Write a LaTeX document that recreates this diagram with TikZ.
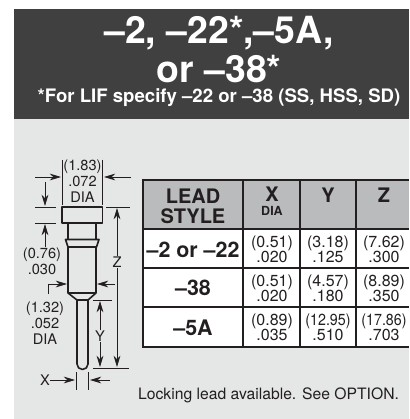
\documentclass[tikz,border=0pt]{standalone}
\usepackage{fontspec}
\setmainfont{TeX Gyre Heros}
\usepackage{tikz}
\usetikzlibrary{calc,positioning}
\usetikzlibrary{arrows.meta}
\tikzset{>={Stealth[width=2.4mm,length=4mm,inset=1.3mm]}}
\definecolor{headdark}{HTML}{404040}
\definecolor{panelgrey}{HTML}{E5E7E6}
\definecolor{cellgrey}{HTML}{B9BBBD}
\definecolor{inkdark}{HTML}{231F20}

\begin{document}
\begin{tikzpicture}[x=1pt,y=-1pt]
  \tikzstyle{dimtxt} = [text=inkdark, inner sep=0pt, align=center, font=\fontsize{14.6}{16}\selectfont]
  \tikzstyle{dimline} = [inkdark, line width=0.8pt]
  \tikzstyle{pinline} = [inkdark, line width=1.6pt, fill=panelgrey, line join=round]
  \tikzstyle{headtxt} = [text=inkdark, inner sep=0pt, align=center, font=\fontsize{20}{20}\selectfont\bfseries]
  \tikzstyle{styletxt} = [text=inkdark, inner sep=0pt, align=center, font=\fontsize{21.4}{23}\selectfont\bfseries]
  \tikzstyle{celltxt} = [text=inkdark, inner sep=0pt, align=center, font=\fontsize{16}{15}\selectfont]
  \tikzstyle{rowline} = [inkdark, line width=1.3pt]
  \tikzstyle{edgeline} = [inkdark, line width=2pt]

  \useasboundingbox (0,0) rectangle (409,419);

  % panels
  \fill[headdark] (14,9) rectangle (409,119);
  \fill[panelgrey] (14,119) rectangle (409,419);

  % title
  \node[text=white, inner sep=0pt, font=\fontsize{37.4}{37}\selectfont\bfseries] (title) at (219,33) {--2, --22*,--5A,};
  \node[text=white, inner sep=0pt, font=\fontsize{37.4}{37}\selectfont\bfseries] (titleb) at (219,69) {or --38*};
  \node[text=white, inner sep=0pt, font=\fontsize{18.6}{20}\selectfont\bfseries] (note) at (219,98) {*For LIF specify --22 or --38 (SS, HSS, SD)};

  % pin
  \draw[pinline] (68,223) -- (68,293) -- (77,300) -- (77,364) arc[start angle=180, end angle=360, x radius=5.5, y radius=-5.5] -- (88,300) -- (96,293) -- (96,223);
  \draw[pinline] (77,300) -- (88,300);
  \draw[pinline] (68,293) -- (96,293);
  \draw[pinline] (65.5,239.5) -- (99,239.5) -- (96.5,247) -- (68,247) -- cycle;
  \draw[pinline] (62,207) rectangle (102.5,223);

  % head dia
  \coordinate (ha) at (62,160);
  \coordinate (hb) at (62,205);
  \coordinate (hc) at (102.5,160);
  \coordinate (hd) at (102.5,205);
  \coordinate (he) at (35,177);
  \coordinate (hf) at (61,177);
  \coordinate (hg) at (131,177);
  \coordinate (hh) at (104,177);
  \node[dimtxt] (headdia) at (82.5,181) {(1.83)\\.072\\DIA};
  \draw[dimline] (ha) to (hb);
  \draw[dimline] (hc) to (hd);
  \draw[dimline,->] (he) to (hf);
  \draw[dimline,->] (hg) to (hh);

  % flange
  \coordinate (fa) at (35,207);
  \coordinate (fb) at (56,207);
  \coordinate (fc) at (35,223);
  \coordinate (fd) at (56,223);
  \coordinate (fe) at (45,182);
  \coordinate (ff) at (45,206);
  \coordinate (fg) at (45,224);
  \node[dimtxt] (flange) at (42,261) {(0.76)\\.030};
  \draw[dimline] (fa) to (fb);
  \draw[dimline] (fc) to (fd);
  \draw[dimline,->] (fe) to (ff);
  \draw[dimline,->] (flange.north -| fe) to (fg);

  % body dia
  \coordinate (ba) at (48,294);
  \coordinate (bb) at (48,284);
  \coordinate (bc) at (67,284);
  \coordinate (bd) at (115,284);
  \coordinate (be) at (97,284);
  \node[dimtxt] (bodydia) at (45,323) {(1.32)\\.052\\DIA};
  \draw[dimline,->] (ba) -- (bb) -- (bc);
  \draw[dimline,->] (bd) to (be);

  % Z
  \coordinate (za) at (106,207);
  \coordinate (zb) at (130,207);
  \coordinate (zc) at (93,368);
  \coordinate (zd) at (129,368);
  \coordinate (ze) at (117,208);
  \coordinate (zf) at (117,367);
  \node[dimtxt] (zlbl) at (117,262) {Z};
  \draw[dimline] (za) to (zb);
  \draw[dimline] (zc) to (zd);
  \draw[dimline,->] (zlbl) to (ze);
  \draw[dimline,->] (zlbl) to (zf);

  % Y
  \coordinate (ya) at (93,300);
  \coordinate (yb) at (112,300);
  \coordinate (yc) at (100,301);
  \coordinate (yd) at (100,367);
  \node[dimtxt] (ylbl) at (100,336) {Y};
  \draw[dimline] (ya) to (yb);
  \draw[dimline,->] (ylbl) to (yc);
  \draw[dimline,->] (ylbl) to (yd);

  % X
  \coordinate (xa) at (76,372);
  \coordinate (xb) at (76,390);
  \coordinate (xc) at (88,372);
  \coordinate (xd) at (88,390);
  \coordinate (xe) at (75,380);
  \coordinate (xf) at (110,380);
  \coordinate (xg) at (90,380);
  \node[dimtxt] (xlbl) at (45,380) {X};
  \draw[dimline] (xa) to (xb);
  \draw[dimline] (xc) to (xd);
  \draw[dimline,->] (xlbl) to (xe);
  \draw[dimline,->] (xf) to (xg);

  % table
  \fill[cellgrey] (143,180) rectangle (409,229);
  \fill[white] (143,229) rectangle (409,347);
  \coordinate (ca) at (143,229);
  \coordinate (cb) at (409,229);
  \coordinate (cc) at (143,268);
  \coordinate (cd) at (409,268);
  \coordinate (ce) at (143,307);
  \coordinate (cf) at (409,307);
  \coordinate (cg) at (243,180);
  \coordinate (ch) at (243,347);
  \coordinate (ci) at (300,180);
  \coordinate (cj) at (300,347);
  \coordinate (ck) at (356,180);
  \coordinate (cl) at (356,347);
  \coordinate (cm) at (143,180);
  \coordinate (cn) at (409,180);
  \coordinate (co) at (143,347);
  \coordinate (cp) at (409,347);
  \draw[rowline] (ca) to (cb);
  \draw[rowline] (cc) to (cd);
  \draw[rowline] (ce) to (cf);
  \draw[rowline] (cg) to (ch);
  \draw[rowline] (ci) to (cj);
  \draw[rowline] (ck) to (cl);
  \draw[edgeline] (cm) to (cn);
  \draw[edgeline] (co) to (cp);
  \draw[edgeline] ($(cm)+(0,-1)$) to ($(co)+(0,1)$);

  \node[headtxt] (leadhd) at (193,206) {LEAD\\STYLE};
  \node[headtxt] (xhd) at (272,194) {X};
  \node[text=inkdark, inner sep=0pt, font=\fontsize{12.5}{14}\selectfont\bfseries] (xdia) at (272,211) {DIA};
  \node[headtxt] (yhd) at (328,195) {Y};
  \node[headtxt] (zhd) at (384,195) {Z};

  \node[styletxt] (lead1) at (193,250) {--2 or --22};
  \node[celltxt] (x1) at (272,249.5) {(0.51)\\.020};
  \node[celltxt] (y1) at (328,249.5) {(3.18)\\.125};
  \node[celltxt] (z1) at (384,249.5) {(7.62)\\.300};

  \node[styletxt] (lead2) at (193,288) {--38};
  \node[celltxt] (x2) at (272,288) {(0.51)\\.020};
  \node[celltxt] (y2) at (328,288) {(4.57)\\.180};
  \node[celltxt] (z2) at (384,288) {(8.89)\\.350};

  \node[styletxt] (lead3) at (193,328) {--5A};
  \node[celltxt] (x3) at (272,327) {(0.89)\\.035};
  \node[celltxt] (y3) at (328,327) {\scalebox{0.89}[1]{(12.95)}\\.510};
  \node[celltxt] (z3) at (384,327) {\scalebox{0.89}[1]{(17.86)}\\.703};

  \node[text=inkdark, inner sep=0pt, font=\fontsize{15.7}{18}\selectfont] (lock) at (268.5,395) {Locking lead available. See OPTION.};
\end{tikzpicture}
\end{document}
